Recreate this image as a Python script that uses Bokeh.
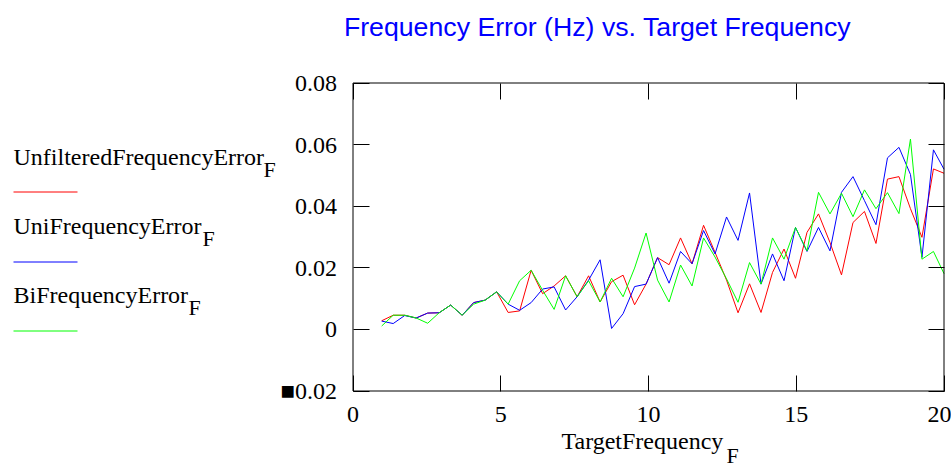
from bokeh.plotting import figure
from bokeh.models import Range1d, LinearAxis, FixedTicker, Label, Arrow, BoxAnnotation
from bokeh.embed import file_html
from bokeh.resources import INLINE

# ---------------- data ----------------
target_frequency = [
    0.971, 1.360, 1.749, 2.138, 2.527, 2.916, 3.305, 3.694, 4.083, 4.472,
    4.861, 5.250, 5.639, 6.028, 6.417, 6.806, 7.195, 7.584, 7.973, 8.362,
    8.751, 9.140, 9.529, 9.918, 10.307, 10.696, 11.085, 11.474, 11.863, 12.252,
    12.641, 13.030, 13.419, 13.808, 14.197, 14.586, 14.975, 15.364, 15.753, 16.142,
    16.531, 16.920, 17.309, 17.698, 18.087, 18.476, 18.865, 19.254, 19.643, 20.0,
]
unfiltered_error = [
    0.0028, 0.0046, 0.0046, 0.0037, 0.0053, 0.0054, 0.0079, 0.0046, 0.0087, 0.0095,
    0.0122, 0.0055, 0.0060, 0.0192, 0.0116, 0.0141, 0.0174, 0.0106, 0.0174, 0.0089,
    0.0155, 0.0176, 0.0080, 0.0147, 0.0233, 0.0210, 0.0297, 0.0213, 0.0338, 0.0250,
    0.0160, 0.0054, 0.0148, 0.0055, 0.0185, 0.0261, 0.0166, 0.0315, 0.0375, 0.0282,
    0.0177, 0.0347, 0.0383, 0.0279, 0.0488, 0.0496, 0.0392, 0.0299, 0.0521, 0.0507,
]
uni_error = [
    0.0027, 0.0019, 0.0045, 0.0037, 0.0053, 0.0054, 0.0079, 0.0046, 0.0087, 0.0095,
    0.0122, 0.0082, 0.0062, 0.0087, 0.0131, 0.0138, 0.0063, 0.0106, 0.0160, 0.0226,
    0.0003, 0.0051, 0.0139, 0.0147, 0.0233, 0.0150, 0.0253, 0.0213, 0.0321, 0.0245,
    0.0365, 0.0289, 0.0443, 0.0147, 0.0245, 0.0158, 0.0331, 0.0253, 0.0331, 0.0255,
    0.0445, 0.0496, 0.0418, 0.0340, 0.0557, 0.0591, 0.0503, 0.0234, 0.0583, 0.0520,
]
bi_error = [
    0.0011, 0.0046, 0.0046, 0.0037, 0.0020, 0.0054, 0.0079, 0.0046, 0.0082, 0.0095,
    0.0122, 0.0082, 0.0158, 0.0192, 0.0127, 0.0065, 0.0174, 0.0106, 0.0158, 0.0089,
    0.0166, 0.0106, 0.0199, 0.0313, 0.0160, 0.0089, 0.0209, 0.0141, 0.0297, 0.0235,
    0.0164, 0.0088, 0.0217, 0.0147, 0.0297, 0.0228, 0.0331, 0.0255, 0.0445, 0.0375,
    0.0442, 0.0366, 0.0453, 0.0392, 0.0444, 0.0376, 0.0618, 0.0228, 0.0253, 0.0181,
]

x_ticks = [0, 5, 10, 15, 20]
y_ticks = [-0.02, 0, 0.02, 0.04, 0.06, 0.08]
y_tick_labels = {-0.02: "\u25a00.02", 0: "0", 0.02: "0.02", 0.04: "0.04",
                 0.06: "0.06", 0.08: "0.08"}

title_text = "Frequency Error (Hz) vs. Target Frequency"
x_label_text = "TargetFrequency"
subscript_text = "F"
series_names = ["UnfilteredFrequencyError", "UniFrequencyError", "BiFrequencyError"]
series_values = [unfiltered_error, uni_error, bi_error]
series_colors = ["#ff0000", "#0000ff", "#00ff00"]

# ---------------- layout ----------------
X_MIN, X_MAX = 0, 20
Y_MIN, Y_MAX = -0.02, 0.08
W, H = 951, 464
FRAME_L, FRAME_R, FRAME_T, FRAME_B = 352.5, 943.5, 82.5, 390.5   # plot box, canvas px
BASE_FIX = 9   # label anchor vs. drawn baseline

SX = (FRAME_R - FRAME_L) / (X_MAX - X_MIN)
SY = (FRAME_B - FRAME_T) / (Y_MAX - Y_MIN)


def dx(px):
    return X_MIN + (px - FRAME_L) / SX


def dy(py):
    return Y_MAX - (py - FRAME_T) / SY


p = figure(width=W, height=H, output_backend="svg", toolbar_location=None,
           x_range=Range1d(X_MIN - FRAME_L / SX, X_MAX + (W - FRAME_R) / SX),
           y_range=Range1d(Y_MIN - (H - FRAME_B) / SY, Y_MAX + FRAME_T / SY),
           x_axis_type=None, y_axis_type=None,
           min_border_left=0, min_border_right=0, min_border_top=0, min_border_bottom=0)
p.background_fill_color = "white"
p.border_fill_color = "white"
p.outline_line_color = None

SERIF = "Liberation Serif"


def make_axis(ticks, bounds, loc, show_labels, standoff=0, overrides=None):
    ax = LinearAxis(ticker=FixedTicker(ticks=ticks), fixed_location=loc, bounds=bounds)
    ax.axis_line_color = None
    ax.major_tick_in = 16
    ax.major_tick_out = 0
    ax.minor_tick_in = 0
    ax.minor_tick_out = 0
    ax.major_tick_line_color = "black"
    ax.major_tick_line_width = 1
    ax.major_label_text_font = SERIF
    ax.major_label_text_font_size = "24px"
    ax.major_label_standoff = standoff
    if show_labels:
        ax.major_label_text_color = "black"
        if overrides:
            ax.major_label_overrides = overrides
    else:
        ax.major_label_text_color = None
    return ax


p.add_layout(make_axis(x_ticks, (X_MIN, X_MAX), Y_MIN, True, 16), "below")
p.add_layout(make_axis(y_ticks, (Y_MIN, Y_MAX), X_MIN, True, 16, y_tick_labels), "left")
p.add_layout(make_axis(y_ticks, (Y_MIN, Y_MAX), X_MAX, False), "right")
p.add_layout(make_axis(x_ticks, (X_MIN, X_MAX), Y_MAX, False), "above")

for vals, col in zip(series_values, series_colors):
    p.line(target_frequency, vals, line_color=col, line_width=1)

# plot box
p.add_layout(BoxAnnotation(left=X_MIN, right=X_MAX, bottom=Y_MIN, top=Y_MAX,
                           fill_color=None, fill_alpha=0, line_color="black",
                           line_width=1, line_alpha=1))

# title
p.add_layout(Label(x=dx(597), y=dy(26), text=title_text, text_align="center",
                   text_baseline="middle", text_font="Liberation Sans",
                   text_font_size="26.7px", text_color="#0000ff"))

# legend (text above a line sample, Mathcad style)
legend_baselines = [165, 234, 303]
legend_sub_x = [263, 202, 188]
legend_line_y = [191.5, 261.5, 330.5]
for name, col, by, sx, ly in zip(series_names, series_colors, legend_baselines,
                                 legend_sub_x, legend_line_y):
    p.add_layout(Label(x=dx(13), y=dy(by - BASE_FIX), text=name, text_align="left",
                       text_baseline="alphabetic", text_font=SERIF,
                       text_font_size="24px", text_color="black"))
    p.add_layout(Label(x=dx(sx), y=dy(by + 13 - BASE_FIX), text=subscript_text,
                       text_align="left", text_baseline="alphabetic", text_font=SERIF,
                       text_font_size="22px", text_color="black"))
    p.add_layout(Arrow(x_start=dx(13), y_start=dy(ly), x_end=dx(77), y_end=dy(ly),
                       end=None, start=None, line_color=col, line_width=1))

# x axis label
p.add_layout(Label(x=dx(561), y=dy(449 - BASE_FIX), text=x_label_text, text_align="left",
                   text_baseline="alphabetic", text_font=SERIF,
                   text_font_size="24px", text_color="black"))
p.add_layout(Label(x=dx(726), y=dy(464 - BASE_FIX), text=subscript_text, text_align="left",
                   text_baseline="alphabetic", text_font=SERIF,
                   text_font_size="22px", text_color="black"))

open("out.html", "w").write(file_html(p, INLINE))
